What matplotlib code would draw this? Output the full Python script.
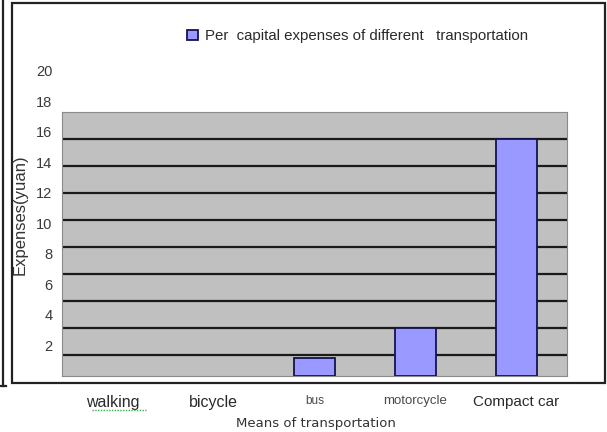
import matplotlib
matplotlib.use("Agg")
import matplotlib.pyplot as plt
from matplotlib.patches import Rectangle, Patch
from matplotlib.lines import Line2D
from matplotlib.ticker import MultipleLocator

# ---- data ----
categories = ["walking", "bicycle", "bus", "motorcycle", "Compact car"]
expenses = [0, 0, 1.2, 3.16, 15.5]
series_label = "Per  capital expenses of different   transportation"
y_ticks = [2, 4, 6, 8, 10, 12, 14, 16, 18, 20]
x_title = "Means of transportation"
y_title = "Expenses(yuan)"

plt.rcParams["font.family"] = ["Liberation Sans", "DejaVu Sans"]

W, H = 607, 432
fig = plt.figure(figsize=(W / 100, H / 100), dpi=100)
fig.patch.set_facecolor("white")

px_per_unit = 15.27
left, right, bottom_px = 62, 567, 376
plot_top_val = 17.27

x0 = left / W
w = (right - left) / W
y0 = (H - bottom_px) / H

bar_face = "#9999ff"
bar_edge = "#141450"

# axes carrying the tick labels (extends above the grey area)
label_top = 21
axl = fig.add_axes([x0, y0, w, label_top * px_per_unit / H])
axl.set_ylim(0, label_top)
axl.set_xlim(0, 1)
axl.patch.set_visible(False)
for s in axl.spines.values():
    s.set_visible(False)
axl.set_xticks([])
axl.set_yticks(y_ticks)
axl.set_yticklabels([str(v) for v in y_ticks])
axl.tick_params(axis="y", length=0, pad=7, labelsize=10.5, labelcolor="#3a3a3a")

# grey plot area
ax = fig.add_axes([x0, y0, w, plot_top_val * px_per_unit / H])
ax.set_facecolor("#c0c0c0")
ax.set_ylim(0, plot_top_val)
ax.set_xlim(-0.5, len(categories) - 0.5)
ax.set_axisbelow(True)
ax.yaxis.set_major_locator(MultipleLocator(1.766, offset=1.39))
ax.yaxis.grid(True, color="#1a1a1a", linewidth=1.6)
ax.tick_params(axis="y", left=False, labelleft=False)
for s in ax.spines.values():
    s.set_color("#8a8a8a")
    s.set_linewidth(0.8)

xs = list(range(len(categories)))
bars = ax.bar(xs, expenses, width=0.41, color=bar_face, edgecolor=bar_edge,
              linewidth=1.3, zorder=3)
for b, v in zip(bars, expenses):
    if v == 0:
        b.set_visible(False)

ax.set_xticks(xs)
ax.set_xticklabels(categories)
ax.tick_params(axis="x", length=0, pad=14, labelcolor="#2a2a2a")
sizes = [11.5, 11.5, 8.5, 9.5, 11]
for lbl, sz in zip(ax.get_xticklabels(), sizes):
    lbl.set_fontsize(sz)
    if sz < 10:
        lbl.set_color("#4a4a4a")

# green wavy underline under "walking" (spell-check mark)
fig.add_artist(Line2D([92 / W, 146 / W], [1 - 410 / H, 1 - 410 / H],
                      color="#3cb043", linewidth=1.0, linestyle=(0, (1, 1))))

fig.text(316 / W, 1 - 423 / H, x_title, ha="center", va="center",
         fontsize=9.5, family="DejaVu Sans", color="#333333")
fig.text(20 / W, 1 - 215 / H, y_title, ha="center", va="center",
         rotation=90, fontsize=12, color="#333333")

handle = Patch(facecolor=bar_face, edgecolor=bar_edge, linewidth=1.3)
fig.legend(handles=[handle], labels=[series_label],
           loc="center left", bbox_to_anchor=(187 / W, 1 - 36 / H),
           frameon=False, fontsize=10.8, handlelength=0.7, handleheight=0.7,
           handletextpad=0.5, borderpad=0, borderaxespad=0,
           labelcolor="#2a2a2a")

# outer frames
fig.add_artist(Rectangle((12 / W, 1 - 383 / H), (605 - 12) / W, 380 / H,
                         transform=fig.transFigure, fill=False,
                         edgecolor="#222222", linewidth=1.6))
fig.add_artist(Line2D([2.5 / W, 2.5 / W], [1.0, 1 - 386 / H],
                      color="#222222", linewidth=1.6))
fig.add_artist(Line2D([0, 6 / W], [1 - 386 / H, 1 - 386 / H],
                      color="#222222", linewidth=1.6))

fig.savefig("out.png", dpi=100)
